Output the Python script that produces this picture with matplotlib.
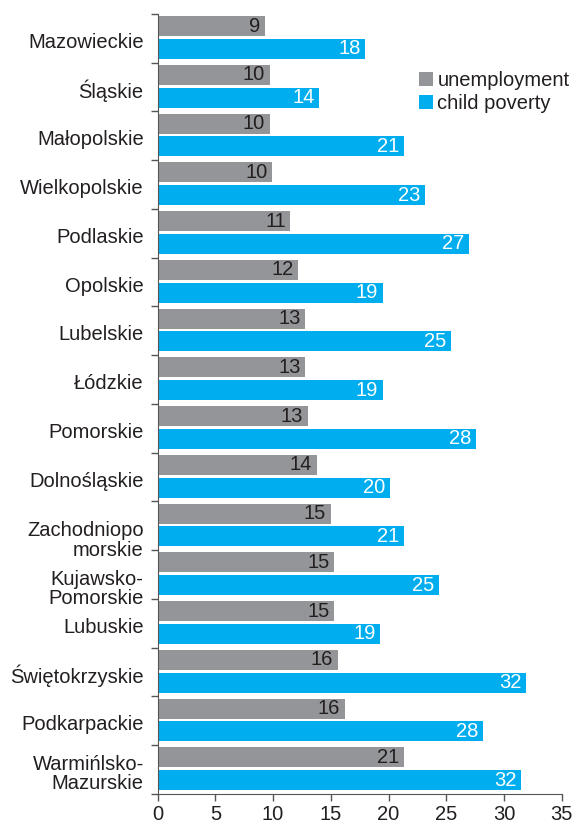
import matplotlib
matplotlib.use("Agg")
import matplotlib.pyplot as plt
import matplotlib.transforms as mtransforms
import numpy as np

plt.rcParams['font.family'] = ['Liberation Sans', 'DejaVu Sans']

# data
regions = ['Mazowieckie', 'Śląskie', 'Małopolskie', 'Wielkopolskie', 'Podlaskie',
           'Opolskie', 'Lubelskie', 'Łódzkie', 'Pomorskie', 'Dolnośląskie',
           'Zachodniopo\nmorskie', 'Kujawsko-\nPomorskie', 'Lubuskie',
           'Świętokrzyskie', 'Podkarpackie', 'Warmińlsko-\nMazurskie']
unemployment = [9.3, 9.7, 9.7, 9.9, 11.5, 12.2, 12.8, 12.8, 13.0, 13.8,
                15.0, 15.3, 15.3, 15.6, 16.2, 21.3]
child_poverty = [18.0, 14.0, 21.3, 23.2, 27.0, 19.5, 25.4, 19.5, 27.6, 20.1,
                 21.3, 24.4, 19.3, 31.9, 28.2, 31.5]
unemp_labels = [9, 10, 10, 10, 11, 12, 13, 13, 13, 14, 15, 15, 15, 16, 16, 21]
pov_labels = [18, 14, 21, 23, 27, 19, 25, 19, 28, 20, 21, 25, 19, 32, 28, 32]
xticks = [0, 5, 10, 15, 20, 25, 30, 35]

grey = '#939598'
blue = '#00aeef'
dark = '#231f20'
fs = 14.5

fig = plt.figure(figsize=(5.76, 8.27), dpi=100)
ax = fig.add_axes([0.2736, 0.0399, 0.7016, 0.9432])

y = np.arange(len(regions))
h = 0.41
ax.barh(y - 0.25, unemployment, height=h, color=grey, label='unemployment')
ax.barh(y + 0.215, child_poverty, height=h, color=blue, label='child poverty')

for i in range(len(regions)):
    ax.text(unemployment[i] - 0.4, y[i] - 0.25, str(unemp_labels[i]),
            ha='right', va='center', color=dark, fontsize=fs)
    ax.text(child_poverty[i] - 0.4, y[i] + 0.215, str(pov_labels[i]),
            ha='right', va='center', color='white', fontsize=fs)

ax.set_xlim(0, 35)
ax.set_ylim(len(regions) - 0.5, -0.5)
ax.set_xticks(xticks)
ax.set_xticklabels([str(t) for t in xticks], fontsize=fs, color=dark)
ax.set_yticks(y)
ax.set_yticklabels(regions, fontsize=fs, color=dark, linespacing=1.05)
ax.set_yticks(np.arange(len(regions) + 1) - 0.5, minor=True)
ax.tick_params(axis='y', which='major', length=0, pad=10)
ax.tick_params(axis='y', which='minor', length=5, width=1, color='#555555')
ax.tick_params(axis='x', length=5, width=1, color='#555555', pad=3)

# the two-line labels sit a bit lower in the original
for lab in ax.get_yticklabels():
    t = lab.get_text()
    dy = -2
    if t.startswith('Zachodniopo') or t.startswith('Kujawsko'):
        dy = -12
    lab.set_transform(lab.get_transform() +
                      mtransforms.ScaledTranslation(0, dy / 100, fig.dpi_scale_trans))

for s in ['top', 'right']:
    ax.spines[s].set_visible(False)
ax.spines['left'].set_color('#555555')
ax.spines['bottom'].set_color('#555555')

fig.legend(loc='upper left', bbox_to_anchor=(0.728, 0.914), frameon=False,
           fontsize=fs, handlelength=0.7, handleheight=0.7, handletextpad=0.2,
           labelspacing=0.2, borderpad=0, borderaxespad=0, labelcolor=dark)

fig.savefig('out.png', dpi=100)
